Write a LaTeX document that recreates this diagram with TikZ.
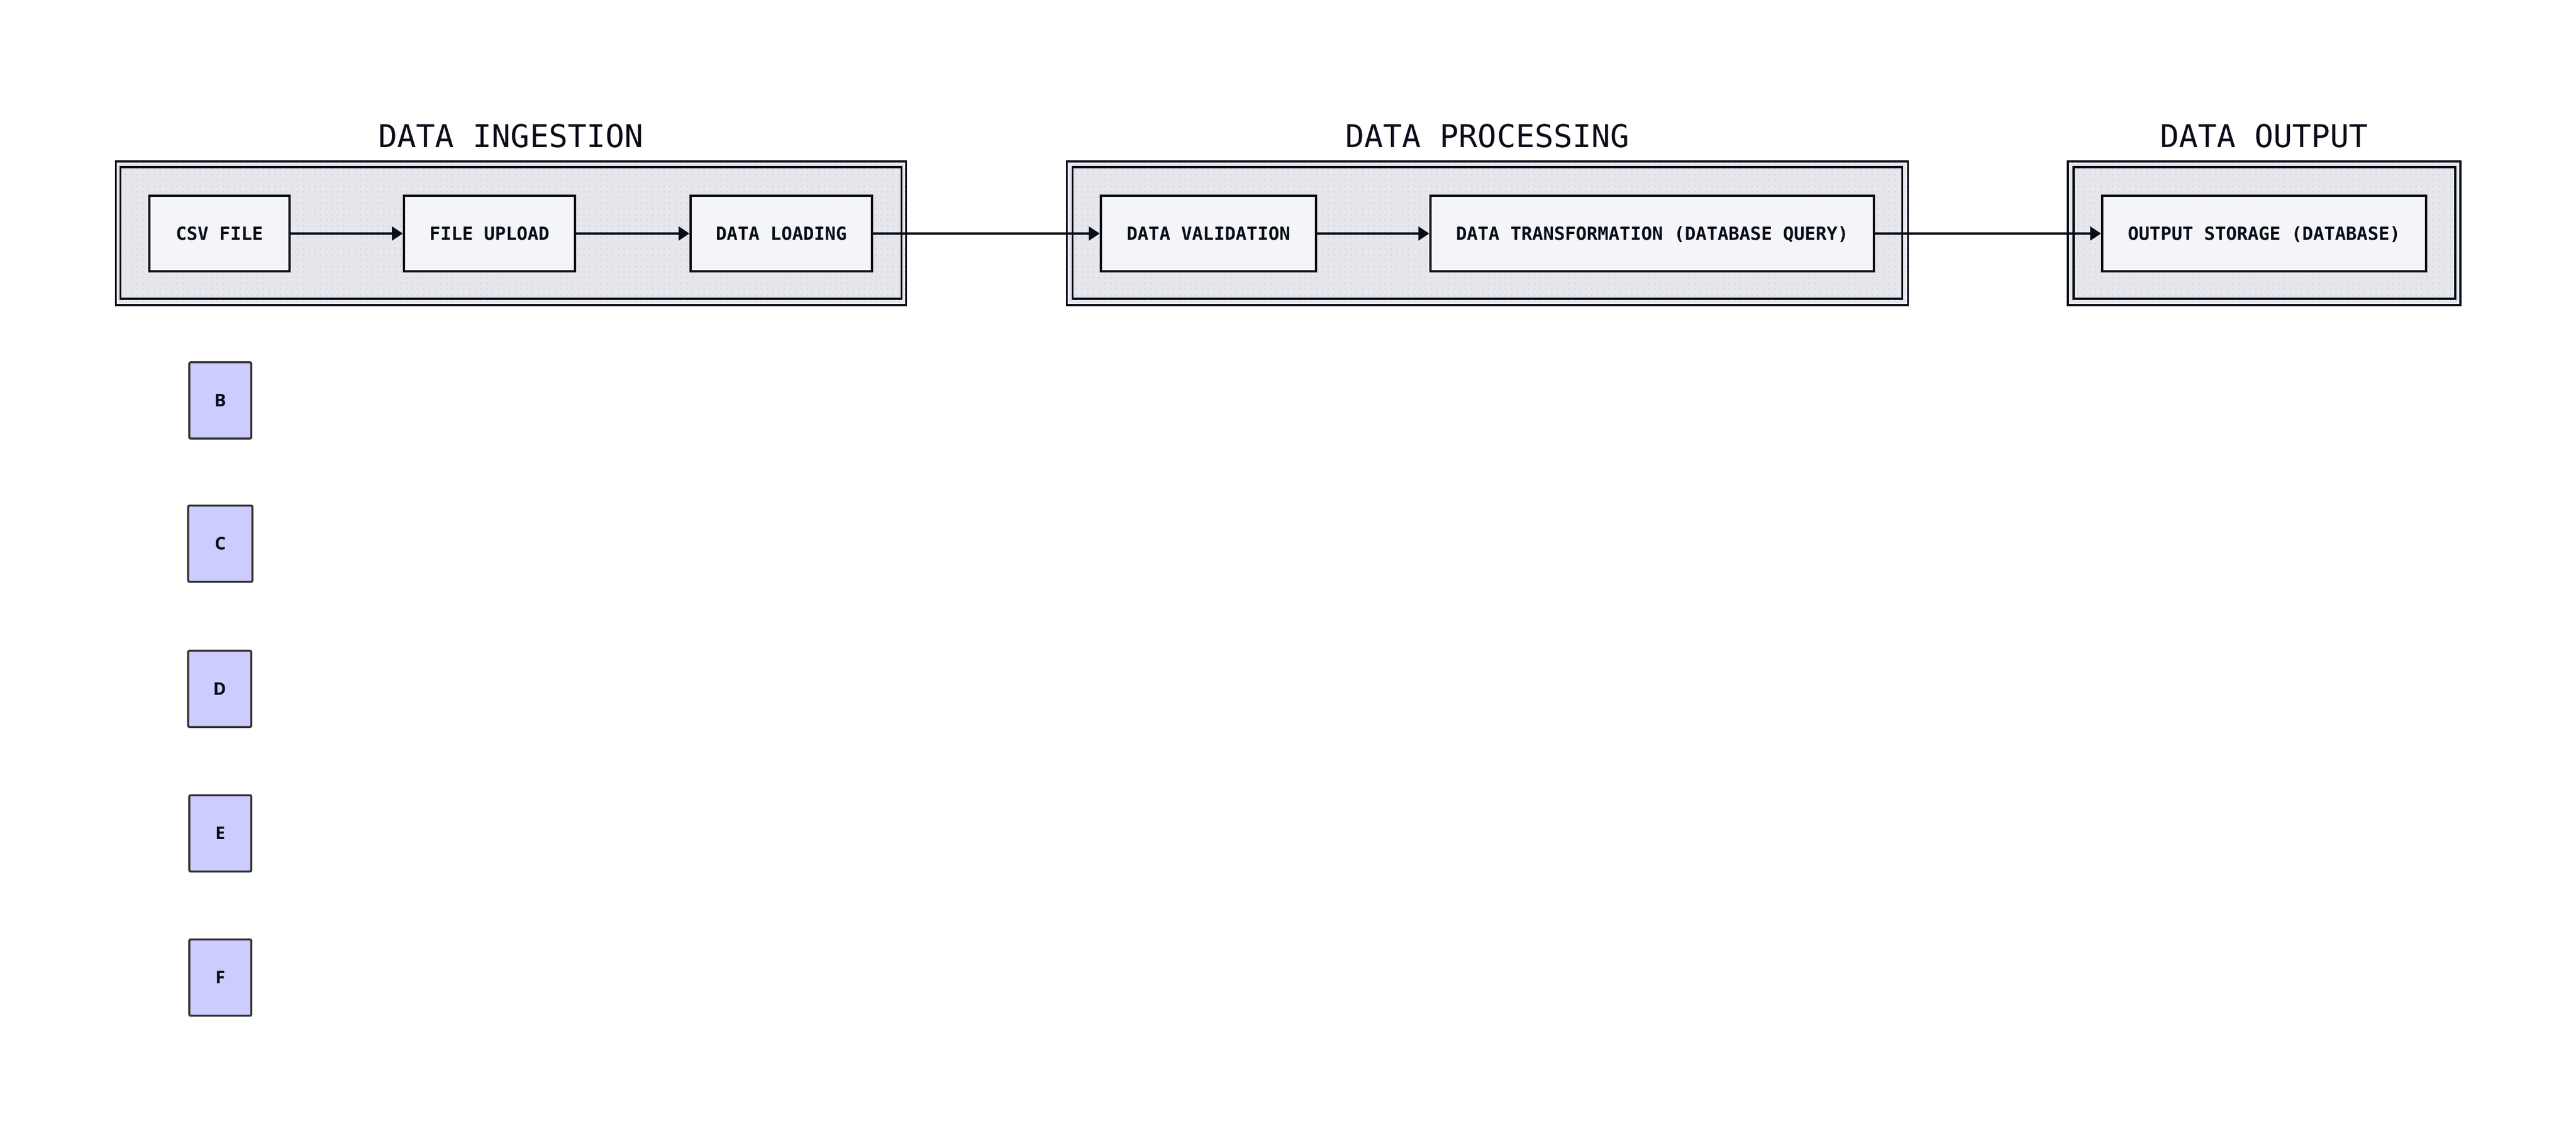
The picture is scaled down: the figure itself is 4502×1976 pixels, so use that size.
\documentclass[tikz,border=0pt]{standalone}
\usepackage{fontspec}
\usetikzlibrary{arrows.meta,patterns.meta}
\newfontfamily\monofont{DejaVu Sans Mono}
\newfontfamily\letterfont{Open Sans}
\definecolor{ink}{HTML}{0A0C18}
\definecolor{clusterbg}{HTML}{E6E7EC}
\definecolor{dotcol}{HTML}{C6C8D0}
\definecolor{nodebg}{HTML}{F4F5F9}
\definecolor{lettbg}{HTML}{CCCCFF}
\definecolor{lettline}{HTML}{333333}
\tikzset{
  clusterouter/.style={draw=ink, line width=1.0pt, fill=clusterbg, inner sep=0pt,
    postaction={pattern={Dots[distance=0.1cm,radius=0.011cm]}, pattern color=dotcol}},
  clusterinner/.style={draw=ink, line width=1.0pt, inner sep=0pt},
  ctitle/.style={font=\monofont\fontsize{15.6}{18}\selectfont, text=ink, inner sep=0pt, text height=11.3pt, text depth=0pt},
  procbox/.style={draw=ink, line width=1.1pt, fill=nodebg, inner sep=0pt,
    minimum height=1.32cm, font=\monofont\bfseries\fontsize{9}{11}\selectfont, text=ink,
    text height=6.6pt, text depth=0pt},
  letterbox/.style={draw=lettline, line width=1.0pt, fill=lettbg, rounded corners=0.6pt,
    inner sep=0pt, minimum width=1.08cm, minimum height=1.33cm,
    font=\letterfont\bfseries\fontsize{8.7}{10}\selectfont, text=ink, text height=6.2pt, text depth=0pt},
  flow/.style={draw=ink, line width=1.1pt, -{Triangle[length=0.19cm,width=0.24cm]}}
}
\begin{document}
\begin{tikzpicture}[x=0.01cm,y=-0.01cm]
\useasboundingbox (0,0) rectangle (4502,1976);
% clusters
\node[clusterouter, minimum width=13.80cm, minimum height=2.51cm] (ingO) at (893,407.5) {};
\node[clusterinner, minimum width=13.64cm, minimum height=2.30cm] (ingI) at (893,407) {};
\node[ctitle] (ingT) at (893,237.5) {DATA INGESTION};
\node[clusterouter, minimum width=14.69cm, minimum height=2.51cm] (proO) at (2599.5,407.5) {};
\node[clusterinner, minimum width=14.49cm, minimum height=2.30cm] (proI) at (2599.5,407) {};
\node[ctitle] (proT) at (2599.5,237.5) {DATA PROCESSING};
\node[clusterouter, minimum width=6.86cm, minimum height=2.51cm] (outO) at (3957,407.5) {};
\node[clusterinner, minimum width=6.67cm, minimum height=2.30cm] (outI) at (3957.5,407) {};
\node[ctitle] (outT) at (3957,237.5) {DATA OUTPUT};
% process nodes
\node[procbox, minimum width=2.45cm] (csv) at (383.5,408) {CSV FILE};
\node[procbox, minimum width=2.99cm] (upload) at (855.5,408) {FILE UPLOAD};
\node[procbox, minimum width=3.17cm] (loading) at (1365.5,408) {DATA LOADING};
\node[procbox, minimum width=3.76cm] (valid) at (2112,408) {DATA VALIDATION};
\node[procbox, minimum width=7.75cm] (trans) at (2887.5,408) {DATA TRANSFORMATION (DATABASE QUERY)};
\node[procbox, minimum width=5.66cm] (store) at (3957,408) {OUTPUT STORAGE (DATABASE)};
% connectors
\draw[flow] (csv) -- (upload);
\draw[flow] (upload) -- (loading);
\draw[flow] (loading) -- (valid);
\draw[flow] (valid) -- (trans);
\draw[flow] (trans) -- (store);
% letter nodes
\node[letterbox] (B) at (385,699.5) {B};
\node[letterbox, minimum width=1.12cm] (C) at (385,950) {C};
\node[letterbox, minimum width=1.10cm] (D) at (384,1203.5) {D};
\node[letterbox] (E) at (385,1456) {E};
\node[letterbox] (F) at (385,1708) {F};
\end{tikzpicture}
\end{document}
